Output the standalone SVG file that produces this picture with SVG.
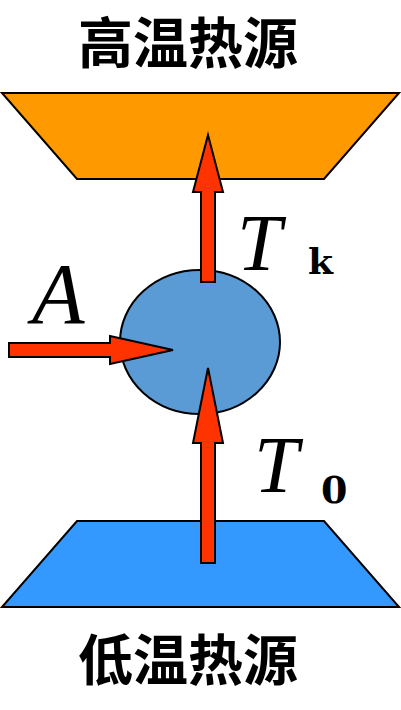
<svg xmlns="http://www.w3.org/2000/svg" width="401" height="710" viewBox="0 0 401 710">
<style>
.edge{stroke:#000;stroke-width:2;stroke-linejoin:miter}
.arrow{fill:#FF3300;stroke:#000;stroke-width:2}
.cjk{font-family:"Noto Sans CJK SC","Noto Sans CJK JP",sans-serif;font-weight:bold;font-size:55px;fill:#000}
.it{font-family:"Liberation Serif",serif;font-style:italic;fill:#000}
.sub{font-family:"DejaVu Serif",serif;font-weight:bold;fill:#000}
</style>
<rect width="401" height="710" fill="#fff"/>
<g id="hot-source">
<polygon class="edge" points="2,93 399,93 324,179 77,179" fill="#FF9900"/>
<text class="cjk" x="188" y="63" text-anchor="middle">高温热源</text>
</g>
<g id="cold-source">
<polygon class="edge" points="77,521 324,521 399,607 2,607" fill="#3399FF"/>
<text class="cjk" x="188" y="680" text-anchor="middle">低温热源</text>
</g>
<g id="engine">
<ellipse cx="200" cy="342" rx="80" ry="72" fill="#5B9BD5" stroke="#000" stroke-width="2"/>
</g>
<g id="connectors">
<polygon class="arrow" points="201,282 201,192 193,192 208,135 223,192 215,192 215,282"/>
<polygon class="arrow" points="201,563 201,443 193,443 208,368 223,443 215,443 215,563"/>
<polygon class="arrow" points="9,343 110,343 110,336 173,350 110,364 110,357 9,357"/>
</g>
<g id="labels">
<text class="it" x="32" y="323" font-size="86">A</text>
<text class="it" x="237" y="270" font-size="80">T</text>
<text class="sub" x="308" y="274" font-size="36">k</text>
<text class="it" x="254" y="492" font-size="80">T</text>
<text class="sub" x="321" y="503" font-size="38">0</text>
</g>
</svg>
